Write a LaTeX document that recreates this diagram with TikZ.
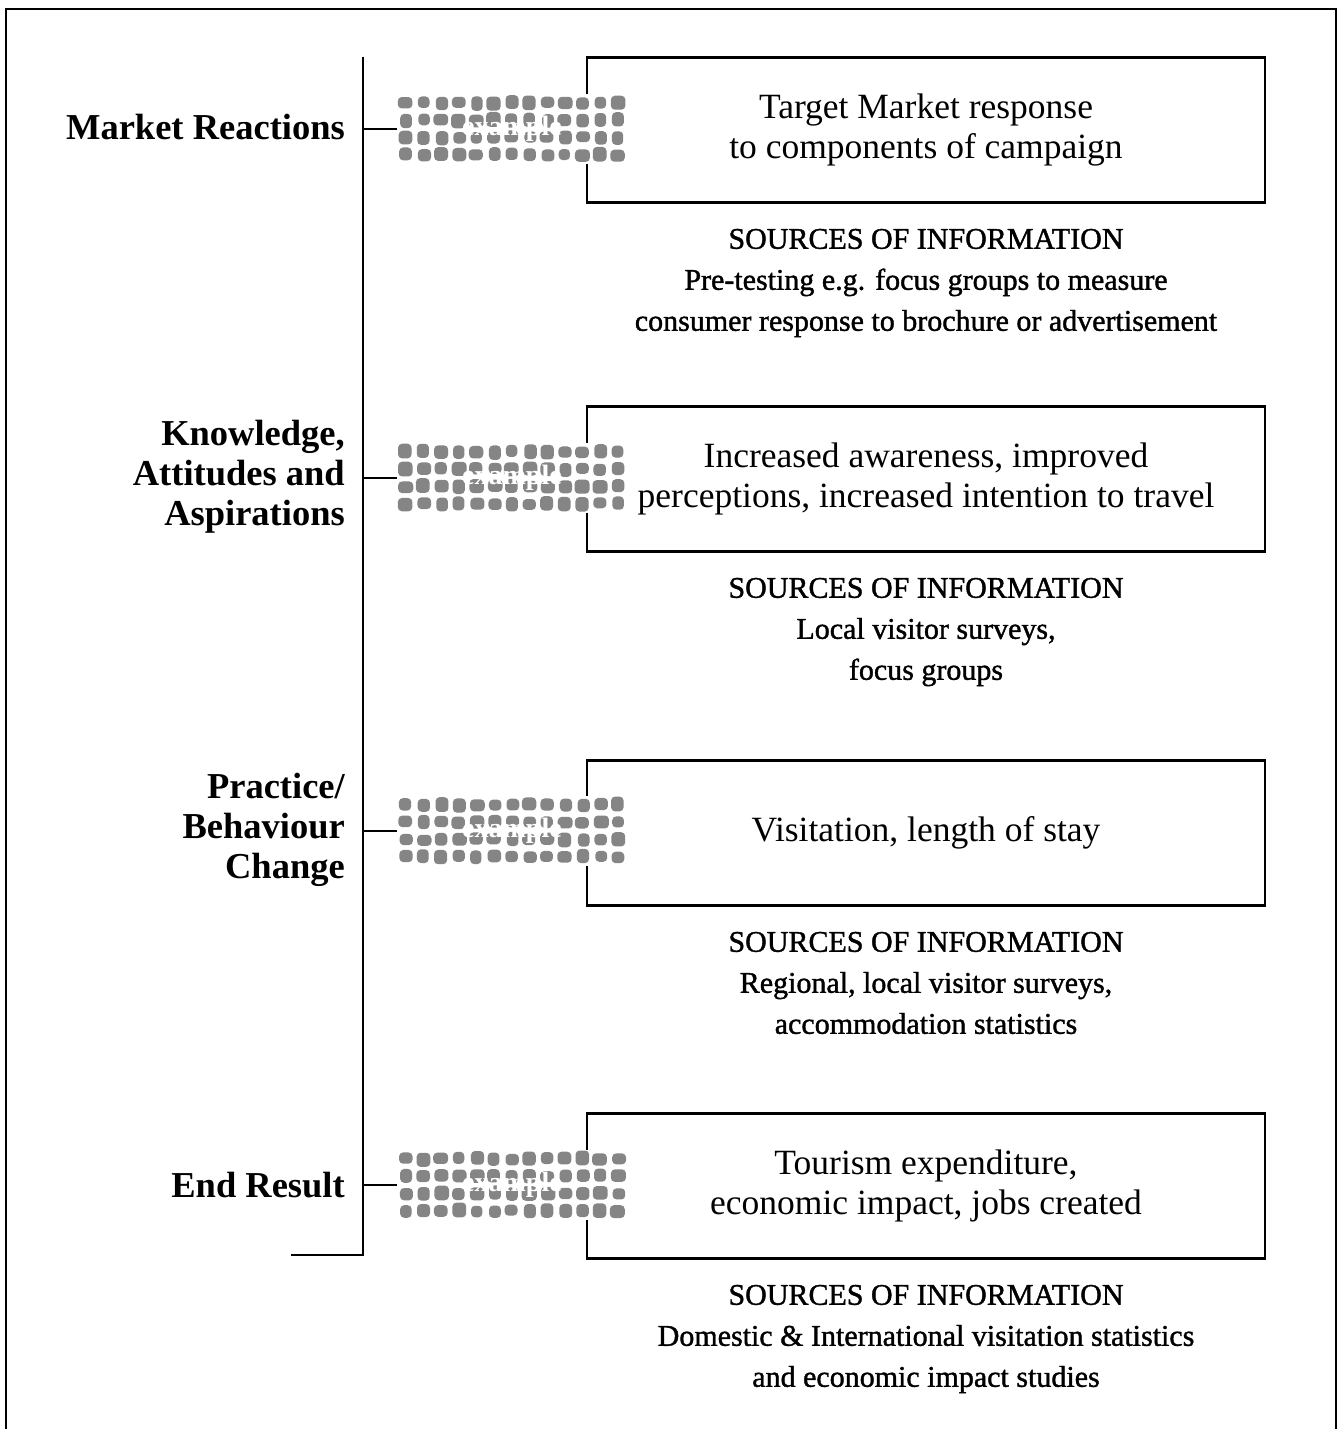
\documentclass[tikz,border=0pt]{standalone}
\usepackage{fontspec}
\setmainfont{Liberation Serif}
\newfontfamily\medfont[FakeBold=1.3]{Liberation Serif}
\usetikzlibrary{calc}
\begin{document}
\begin{tikzpicture}[x=1pt,y=-1pt,
  frame/.style={line width=2pt},
  spine/.style={line width=2pt},
  tick/.style={line width=1.8pt},
  stage/.style={rectangle,draw,line width=2.4pt,minimum width=678pt,minimum height=145pt,
    align=center,font=\fontsize{35.5}{40}\selectfont,inner sep=0pt},
  level/.style={anchor=east,align=right,font=\bfseries\fontsize{36.5}{40}\selectfont,inner sep=0pt},
  sources/.style={anchor=north,align=center,font=\medfont\fontsize{30}{41}\selectfont,inner sep=0pt},
  exbox/.style={rectangle,minimum width=230pt,minimum height=70pt,inner sep=0pt,fill=white},
  blob/.style={fill=black!48},
  extext/.style={text=white,font=\bfseries\fontsize{28}{28}\selectfont}
]
\useasboundingbox (0,0) rectangle (1343,1429);

% outer frame, open at the bottom
\draw[frame] (6,1429) -- (6,9) -- (1336,9) -- (1336,1429);

% level labels on the left
\node[level] (l1) at (345,127) {Market Reactions};
\node[level] (l2) at (345,477) {Knowledge,\\Attitudes and\\Aspirations};
\node[level] (l3) at (345,830) {Practice/\\Behaviour\\Change};
\node[level] (l4) at (345,1185) {End Result};

% spine
\coordinate (top) at (363,57);
\coordinate (bot) at (363,1255);
\coordinate (foot) at (291,1255);
\draw[spine] (top) -- (bot) -- (foot);

% result boxes
\node[stage] (b1) at (926,130) {Target Market response\\to components of campaign};
\node[stage] (b2) at (926,479) {Increased awareness, improved\\perceptions, increased intention to travel};
\node[stage] (b3) at (926,833) {Visitation, length of stay};
\node[stage] (b4) at (926,1186) {Tourism expenditure,\\economic impact, jobs created};

% sources of information
\node[sources] (s1) at ($(b1.south)+(0,25)$) {SOURCES OF INFORMATION\\Pre-testing e.g. focus groups to measure\\consumer response to brochure or advertisement};
\node[sources] (s2) at ($(b2.south)+(0,25)$) {SOURCES OF INFORMATION\\Local visitor surveys,\\focus groups};
\node[sources] (s3) at ($(b3.south)+(0,25)$) {SOURCES OF INFORMATION\\Regional, local visitor surveys,\\accommodation statistics};
\node[sources] (s4) at ($(b4.south)+(0,25)$) {SOURCES OF INFORMATION\\Domestic \& International visitation statistics\\and economic impact studies};

% screened "example" blocks over the box edges
\pgfmathsetseed{7}
\foreach \n/\y in {1/129,2/478,3/831,4/1185}{
  \node[exbox] (ex\n) at (512,\y) {};
  \foreach \i in {0,...,12}{
    \foreach \j in {0,...,3}{
      \pgfmathsetmacro{\rx}{5.6+2.0*rnd}
      \pgfmathsetmacro{\ry}{5.4+2.0*rnd}
      \pgfmathsetmacro{\dx}{2*rnd-1}
      \pgfmathsetmacro{\dy}{2*rnd-1}
      \fill[blob,rounded corners=4pt]
        ($(ex\n.north west)+(9+17.7*\i+\dx-\rx,9+17.3*\j+\dy-\ry)$) rectangle
        ($(ex\n.north west)+(9+17.7*\i+\dx+\rx,9+17.3*\j+\dy+\ry)$);
    }
  }
  \node[extext] at (ex\n.center) {example};
}

% ticks from the spine to each block
\draw[tick] (ex1.west -| top) -- (ex1.west);
\draw[tick] (ex2.west -| top) -- (ex2.west);
\draw[tick] (ex3.west -| top) -- (ex3.west);
\draw[tick] (ex4.west -| top) -- (ex4.west);
\end{tikzpicture}
\end{document}
